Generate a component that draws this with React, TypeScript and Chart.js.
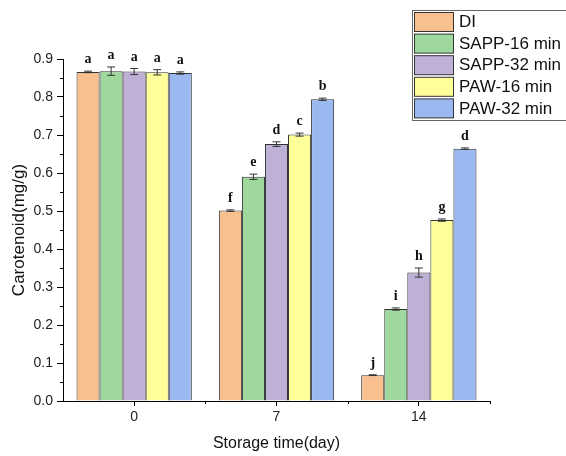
import React, { useEffect, useRef } from "react";
import { Chart, registerables } from "chart.js";

Chart.register(...registerables);

const categories = ["0", "7", "14"];
const seriesNames = ["DI", "SAPP-16 min", "SAPP-32 min", "PAW-16 min", "PAW-32 min"];

const diValues = [0.866, 0.501, 0.068];
const sapp16Values = [0.868, 0.59, 0.242];
const sapp32Values = [0.867, 0.676, 0.338];
const paw16Values = [0.865, 0.701, 0.476];
const paw32Values = [0.863, 0.794, 0.664];

const diErrors = [0.002, 0.002, 0.001];
const sapp16Errors = [0.011, 0.007, 0.003];
const sapp32Errors = [0.008, 0.006, 0.012];
const paw16Errors = [0.007, 0.004, 0.003];
const paw32Errors = [0.003, 0.003, 0.002];

const diLetters = ["a", "f", "j"];
const sapp16Letters = ["a", "e", "i"];
const sapp32Letters = ["a", "d", "h"];
const paw16Letters = ["a", "c", "g"];
const paw32Letters = ["a", "b", "d"];

const seriesColors = ["#F9C08F", "#9FD89C", "#BFB0D8", "#FFFF99", "#99B9F0"];

const allValues = [diValues, sapp16Values, sapp32Values, paw16Values, paw32Values];
const allErrors = [diErrors, sapp16Errors, sapp32Errors, paw16Errors, paw32Errors];
const allLetters = [diLetters, sapp16Letters, sapp32Letters, paw16Letters, paw32Letters];

const yTickValues = [0, 0.1, 0.2, 0.3, 0.4, 0.5, 0.6, 0.7, 0.8, 0.9];

const extrasPlugin = {
  id: "extras",
  afterDatasetsDraw(chart: any) {
    const ctx = chart.ctx;
    const yScale = chart.scales.y;
    const xScale = chart.scales.x;
    const area = chart.chartArea;
    ctx.save();
    // error bars and letters
    allValues.forEach((vals, di) => {
      const meta = chart.getDatasetMeta(di);
      meta.data.forEach((bar: any, j: number) => {
        const v = vals[j];
        const e = allErrors[di][j];
        const x = bar.x;
        const yt = yScale.getPixelForValue(v + e);
        const yb = yScale.getPixelForValue(v - e);
        ctx.strokeStyle = "#333";
        ctx.lineWidth = 1;
        ctx.beginPath();
        ctx.moveTo(x, yt);
        ctx.lineTo(x, yb);
        ctx.moveTo(x - 4, yt);
        ctx.lineTo(x + 4, yt);
        ctx.moveTo(x - 4, yb);
        ctx.lineTo(x + 4, yb);
        ctx.stroke();
        ctx.fillStyle = "#111";
        ctx.font = "bold 14px 'Liberation Serif', 'DejaVu Serif', serif";
        ctx.textAlign = "center";
        ctx.textBaseline = "alphabetic";
        ctx.fillText(allLetters[di][j], x, yt - 8);
      });
    });
    // minor ticks y
    ctx.strokeStyle = "#000";
    ctx.lineWidth = 1;
    ctx.beginPath();
    for (let i = 0; i < yTickValues.length - 1; i++) {
      const mv = (yTickValues[i] + yTickValues[i + 1]) / 2;
      const py = Math.round(yScale.getPixelForValue(mv)) + 0.5;
      ctx.moveTo(area.left - 3, py);
      ctx.lineTo(area.left, py);
    }
    // minor ticks x
    const centers = categories.map((_, i) => xScale.getPixelForValue(i));
    const bounds: number[] = [];
    for (let i = 0; i < centers.length - 1; i++) bounds.push((centers[i] + centers[i + 1]) / 2);
    bounds.push(area.right);
    bounds.forEach((bx) => {
      const px = Math.round(bx) + 0.5;
      ctx.moveTo(px, area.bottom);
      ctx.lineTo(px, area.bottom + 3);
    });
    ctx.stroke();
    ctx.restore();
  },
  afterDraw(chart: any) {
    const ctx = chart.ctx;
    ctx.save();
    const lx = 412.5;
    const ly = 10.5;
    ctx.strokeStyle = "#666";
    ctx.lineWidth = 1;
    ctx.fillStyle = "#fff";
    ctx.fillRect(lx, ly, 170, 110);
    ctx.strokeRect(lx, ly, 170, 110);
    seriesNames.forEach((name, i) => {
      const sy = 12.5 + i * 21.6;
      ctx.fillStyle = seriesColors[i];
      ctx.fillRect(414.5, sy, 39, 19);
      ctx.strokeStyle = "#333";
      ctx.strokeRect(414.5, sy, 39, 19);
      ctx.fillStyle = "#111";
      ctx.font = "17px 'Liberation Sans', Arial, sans-serif";
      ctx.textAlign = "left";
      ctx.textBaseline = "middle";
      ctx.fillText(name, 459, sy + 10);
    });
    ctx.restore();
  },
};

export default function App() {
  const canvasRef = useRef<HTMLCanvasElement | null>(null);

  useEffect(() => {
    document.body.style.margin = "0";
    document.body.style.overflow = "hidden";
    const canvas = canvasRef.current;
    if (!canvas) return;
    const tickFont = { family: "'Liberation Sans', Arial, sans-serif", size: 14 };
    const chart = new Chart(canvas, {
      type: "bar",
      data: {
        labels: categories,
        datasets: seriesNames.map((name, i) => ({
          label: name,
          data: allValues[i],
          backgroundColor: seriesColors[i],
          borderColor: "#333",
          borderWidth: 1,
          categoryPercentage: 0.81,
          barPercentage: 1,
        })),
      },
      options: {
        responsive: false,
        animation: false,
        devicePixelRatio: 1,
        layout: { padding: { top: 59, right: 76, left: 0, bottom: 0 } },
        plugins: {
          legend: { display: false },
          tooltip: { enabled: false },
        },
        scales: {
          x: {
            type: "category",
            offset: true,
            grid: {
              display: true,
              drawOnChartArea: false,
              offset: false,
              tickLength: 5,
              color: "#000",
            },
            border: { display: true, color: "#000", width: 1 },
            ticks: { font: tickFont, color: "#222", padding: 3 },
            title: {
              display: true,
              text: "Storage time(day)",
              font: { family: "'Liberation Sans', Arial, sans-serif", size: 16 },
              color: "#111",
              padding: { top: 0, bottom: 3 },
            },
            afterFit: (scale: any) => {
              scale.height = 55;
            },
          },
          y: {
            min: 0,
            max: 0.9,
            grid: {
              display: true,
              drawOnChartArea: false,
              tickLength: 6,
              color: "#000",
            },
            border: { display: true, color: "#000", width: 1 },
            ticks: {
              stepSize: 0.1,
              font: tickFont,
              color: "#222",
              padding: 4,
              callback: (v: any) => Number(v).toFixed(1),
            },
            title: {
              display: true,
              text: "Carotenoid(mg/g)",
              font: { family: "'Liberation Sans', Arial, sans-serif", size: 17 },
              color: "#111",
              padding: { top: 9, bottom: 0 },
            },
            afterFit: (scale: any) => {
              scale.width = 63;
            },
          },
        },
      },
      plugins: [extrasPlugin],
    } as any);
    return () => chart.destroy();
  }, []);

  return (
    <div style={{ width: 566, height: 456 }}>
      <canvas ref={canvasRef} width={566} height={456} />
    </div>
  );
}
